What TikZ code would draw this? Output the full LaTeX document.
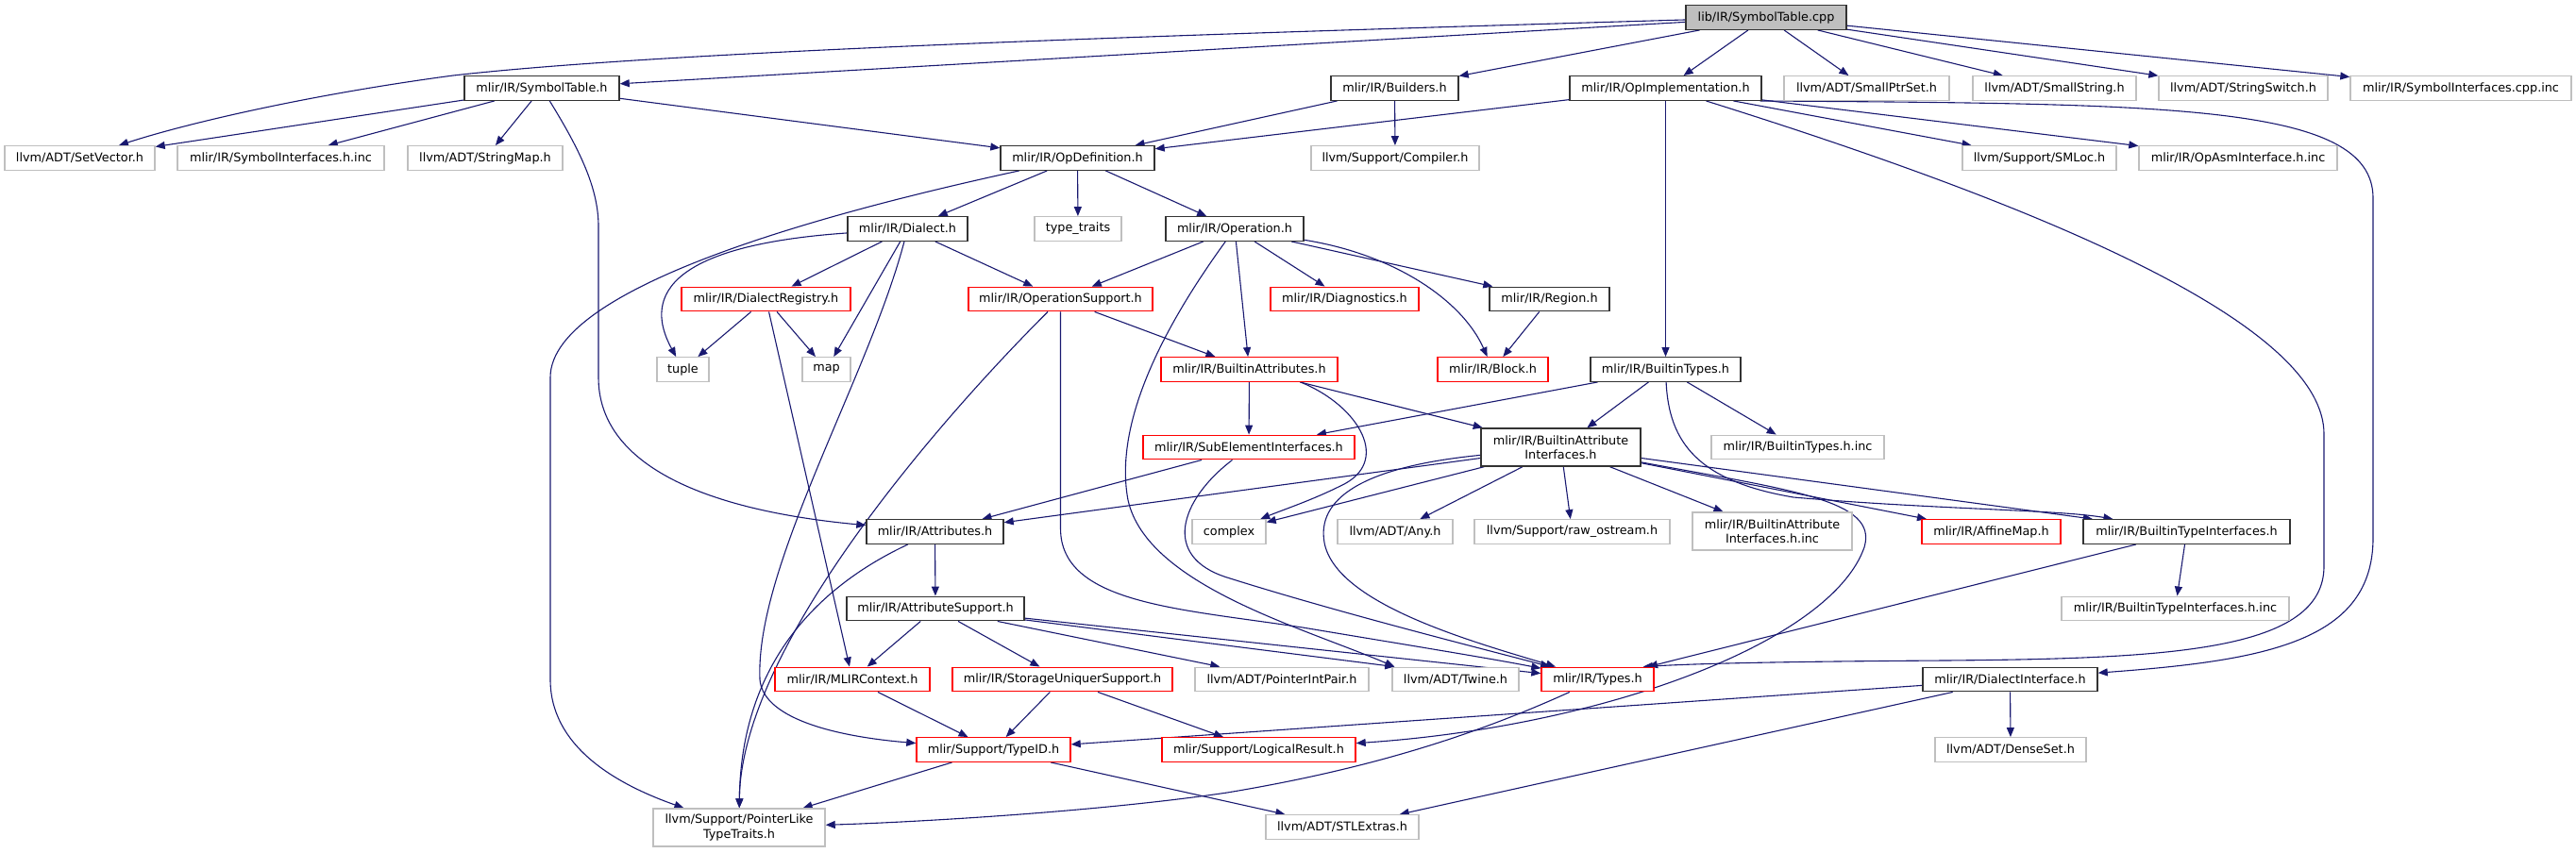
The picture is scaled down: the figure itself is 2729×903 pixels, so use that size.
\documentclass[tikz,border=0pt]{standalone}
\usepackage{fontspec}
\setmainfont{DejaVu Sans}
\usetikzlibrary{arrows.meta}
\definecolor{edgecol}{HTML}{191970}
\definecolor{greyb}{HTML}{BFBFBF}
\definecolor{darkb}{HTML}{333333}
\pgfdeclarelayer{bg}
\pgfsetlayers{bg,main}
\begin{document}
\begin{tikzpicture}[x=1pt,y=-1pt,
 gnode/.style={rectangle, inner sep=0pt, minimum height=25.5pt, line width=1.4pt, fill=white,
   font=\fontsize{12.8pt}{15.5pt}\selectfont, align=center, text=black},
 blk/.style={gnode, draw=darkb},
 gry/.style={gnode, draw=greyb},
 trunc/.style={gnode, draw=red},
 rootn/.style={gnode, draw=darkb, fill=greyb},
 twol/.style={minimum height=40pt},
 dep/.style={draw=edgecol, line width=1.1pt, -{Triangle[length=10pt,width=8pt]}},
 ]
\useasboundingbox (0,0) rectangle (2729,903);

% row 1
\node[rootn, minimum width=170pt] (root) at (1871,18.5) {lib/IR/SymbolTable.cpp};
% row 2
\node[blk, minimum width=164pt] (symtab) at (574,93.5) {mlir/IR/SymbolTable.h};
\node[blk, minimum width=135pt] (builders) at (1477.5,93.5) {mlir/IR/Builders.h};
\node[blk, minimum width=203pt] (opimpl) at (1764.5,93.5) {mlir/IR/OpImplementation.h};
\node[gry, minimum width=175pt] (smallptr) at (1977.5,93.5) {llvm/ADT/SmallPtrSet.h};
\node[gry, minimum width=173pt] (smallstr) at (2176.5,93.5) {llvm/ADT/SmallString.h};
\node[gry, minimum width=179pt] (strswitch) at (2376.5,93.5) {llvm/ADT/StringSwitch.h};
\node[gry, minimum width=234pt] (symifcpp) at (2607,93.5) {mlir/IR/SymbolInterfaces.cpp.inc};
% row 3
\node[gry, minimum width=159pt] (setvector) at (84.5,167.5) {llvm/ADT/SetVector.h};
\node[gry, minimum width=219pt] (symifinc) at (297.5,167.5) {mlir/IR/SymbolInterfaces.h.inc};
\node[gry, minimum width=164pt] (strmap) at (514,167.5) {llvm/ADT/StringMap.h};
\node[blk, minimum width=163pt] (opdef) at (1141.5,167.5) {mlir/IR/OpDefinition.h};
\node[gry, minimum width=178pt] (compiler) at (1478,167.5) {llvm/Support/Compiler.h};
\node[gry, minimum width=163pt] (smloc) at (2160.5,167.5) {llvm/Support/SMLoc.h};
\node[gry, minimum width=210pt] (opasm) at (2371,167.5) {mlir/IR/OpAsmInterface.h.inc};
% row 4
\node[blk, minimum width=127pt] (dialect) at (961.5,242.5) {mlir/IR/Dialect.h};
\node[gry, minimum width=92pt] (typetraits) at (1142,242.5) {type\_traits};
\node[blk, minimum width=146pt] (operation) at (1308,242.5) {mlir/IR/Operation.h};
% row 5
\node[trunc, minimum width=179pt] (dreg) at (811.5,317) {mlir/IR/DialectRegistry.h};
\node[trunc, minimum width=195pt] (opsupport) at (1123.5,317) {mlir/IR/OperationSupport.h};
\node[trunc, minimum width=157pt] (diag) at (1424.5,317) {mlir/IR/Diagnostics.h};
\node[blk, minimum width=127pt] (region) at (1641.5,317) {mlir/IR/Region.h};
% row 6
\node[gry, minimum width=55pt] (tuple) at (723.5,391.5) {tuple};
\node[gry, minimum width=51pt] (map) at (875.5,391.5) {map};
\node[trunc, minimum width=187pt] (battr) at (1323.5,391.5) {mlir/IR/BuiltinAttributes.h};
\node[trunc, minimum width=117pt] (block) at (1581.5,391.5) {mlir/IR/Block.h};
\node[blk, minimum width=159pt] (btypes) at (1764.5,391.5) {mlir/IR/BuiltinTypes.h};
% row 7
\node[trunc, minimum width=224pt] (subel) at (1323,474) {mlir/IR/SubElementInterfaces.h};
\node[blk, twol, minimum width=169pt] (bai) at (1653.5,474) {mlir/IR/BuiltinAttribute\\Interfaces.h};
\node[gry, minimum width=183pt] (btinc) at (1904.5,474) {mlir/IR/BuiltinTypes.h.inc};
% row 8
\node[blk, minimum width=145pt] (attrs) at (990.5,563.5) {mlir/IR/Attributes.h};
\node[gry, minimum width=78pt] (complex) at (1302,563.5) {complex};
\node[gry, minimum width=122pt] (any) at (1478,563.5) {llvm/ADT/Any.h};
\node[gry, minimum width=207pt] (rawos) at (1665.5,563.5) {llvm/Support/raw\_ostream.h};
\node[gry, twol, minimum width=169pt] (baiinc) at (1877.5,563) {mlir/IR/BuiltinAttribute\\Interfaces.h.inc};
\node[trunc, minimum width=147pt] (affine) at (2109.5,563.5) {mlir/IR/AffineMap.h};
\node[blk, minimum width=219pt] (bti) at (2316.5,563.5) {mlir/IR/BuiltinTypeInterfaces.h};
% row 9
\node[blk, minimum width=188pt] (attrsup) at (991,645) {mlir/IR/AttributeSupport.h};
\node[gry, minimum width=241pt] (btiinc) at (2304.5,645) {mlir/IR/BuiltinTypeInterfaces.h.inc};
% row 10
\node[trunc, minimum width=164pt] (mlirctx) at (903,720) {mlir/IR/MLIRContext.h};
\node[trunc, minimum width=233pt] (storage) at (1125.5,720) {mlir/IR/StorageUniquerSupport.h};
\node[gry, minimum width=184pt] (ptrint) at (1358,720) {llvm/ADT/PointerIntPair.h};
\node[gry, minimum width=134pt] (twine) at (1542,720) {llvm/ADT/Twine.h};
\node[trunc, minimum width=119pt] (types) at (1692.5,720) {mlir/IR/Types.h};
\node[blk, minimum width=185pt] (dialif) at (2129.5,720) {mlir/IR/DialectInterface.h};
% row 11
\node[trunc, minimum width=163pt] (typeid) at (1052.5,794.5) {mlir/Support/TypeID.h};
\node[trunc, minimum width=205pt] (logres) at (1333.5,794.5) {mlir/Support/LogicalResult.h};
\node[gry, minimum width=160pt] (denseset) at (2130,794.5) {llvm/ADT/DenseSet.h};
% row 12
\node[gry, twol, minimum width=182pt] (ptrlike) at (783,877) {llvm/Support/PointerLike\\TypeTraits.h};
\node[gry, minimum width=162pt] (stlextras) at (1422,876.5) {llvm/ADT/STLExtras.h};

\begin{pgfonlayer}{bg}
% straight edges
\draw[dep] (root) -- (builders);
\draw[dep] (root) -- (opimpl);
\draw[dep] (root) -- (smallptr);
\draw[dep] (root) -- (smallstr);
\draw[dep] (root) -- (strswitch);
\draw[dep] (root) -- (symifcpp);
\draw[dep] (root) -- (symtab);
\draw[dep] (symtab) -- (setvector);
\draw[dep] (symtab) -- (symifinc);
\draw[dep] (symtab) -- (strmap);
\draw[dep] (symtab) -- (opdef);
\draw[dep] (builders) -- (opdef);
\draw[dep] (builders) -- (compiler);
\draw[dep] (opimpl) -- (opdef);
\draw[dep] (opimpl) -- (btypes);
\draw[dep] (opimpl) -- (smloc);
\draw[dep] (opimpl) -- (opasm);
\draw[dep] (opdef) -- (dialect);
\draw[dep] (opdef) -- (typetraits);
\draw[dep] (opdef) -- (operation);
\draw[dep] (dialect) -- (dreg);
\draw[dep] (dialect) -- (map);
\draw[dep] (dialect) -- (opsupport);
\draw[dep] (operation) -- (opsupport);
\draw[dep] (operation) -- (battr);
\draw[dep] (operation) -- (diag);
\draw[dep] (operation) -- (region);
\draw[dep] (dreg) -- (tuple);
\draw[dep] (dreg) -- (map);
\draw[dep] (dreg) -- (mlirctx);
\draw[dep] (opsupport) -- (battr);
\draw[dep] (region) -- (block);
\draw[dep] (battr) -- (subel);
\draw[dep] (battr) -- (bai);
\draw[dep] (btypes) -- (subel);
\draw[dep] (btypes) -- (bai);
\draw[dep] (btypes) -- (btinc);
\draw[dep] (subel) -- (attrs);
\draw[dep] (bai) -- (attrs);
\draw[dep] (bai) -- (complex);
\draw[dep] (bai) -- (any);
\draw[dep] (bai) -- (rawos);
\draw[dep] (bai) -- (baiinc);
\draw[dep] (bai) -- (affine);
\draw[dep] (bai) -- (bti);
\draw[dep] (attrs) -- (attrsup);
\draw[dep] (attrsup) -- (mlirctx);
\draw[dep] (attrsup) -- (storage);
\draw[dep] (attrsup) -- (ptrint);
\draw[dep] (attrsup) -- ([xshift=3pt]twine.north west);
\draw[dep] (attrsup) -- (types);
\draw[dep] (mlirctx) -- (typeid);
\draw[dep] (storage) -- (typeid);
\draw[dep] (storage) -- (logres);
\draw[dep] (typeid) -- (ptrlike);
\draw[dep] (typeid) -- (stlextras);
\draw[dep] (dialif) -- (typeid);
\draw[dep] (dialif) -- (stlextras);
\draw[dep] (dialif) -- (denseset);
\draw[dep] (bti) -- (types);
\draw[dep] (bti) -- (btiinc);
% curved edges
\draw[dep] (root) .. controls (1200,38) and (700,55) .. (480,80) .. controls (330,100) and (200,130) .. (setvector);
\draw[dep] (symtab) .. controls (615,160) and (634,200) .. (634,240) -- (634,400) .. controls (634,490) and (740,540) .. (attrs);
\draw[dep] (opdef) .. controls (900,220) and (583,300) .. (583,400) -- (583,720) .. controls (583,790) and (650,830) .. (ptrlike);
\draw[dep] (dialect) .. controls (680,262) and (690,330) .. (tuple);
\draw[dep] (dialect) .. controls (920,400) and (800,600) .. (805,720) .. controls (808,760) and (880,780) .. (typeid);
\draw[dep] (opsupport) .. controls (1010,430) and (785,680) .. (ptrlike);
\draw[dep] (attrs) .. controls (870,620) and (785,700) .. (ptrlike);
\draw[dep] ([xshift=-2pt]opimpl.south east) .. controls (2300,110) and (2514,110) .. (2514,210) -- (2514,570) .. controls (2514,680) and (2400,700) .. (dialif);
\draw[dep] (opimpl) .. controls (2200,230) and (2462,350) .. (2462,460) -- (2462,600) .. controls (2462,690) and (2300,698) .. (2060,700) .. controls (1900,701) and (1800,703) .. ([xshift=-12pt]types.north east);
\draw[dep] (operation) .. controls (1480,270) and (1550,320) .. (block);
\draw[dep] (operation) .. controls (1230,350) and (1180,450) .. (1195,530) .. controls (1215,620) and (1380,665) .. ([xshift=3pt]twine.north west);
\draw[dep] (opsupport) -- (1123.5,560) .. controls (1123.5,640) and (1250,645) .. (1380,665) .. controls (1500,685) and (1580,698) .. (types);
\draw[dep] (subel) .. controls (1250,530) and (1230,590) .. (1300,612) .. controls (1420,650) and (1580,690) .. (types);
\draw[dep] (bai) .. controls (1440,495) and (1395,530) .. (1403,575) .. controls (1415,640) and (1560,680) .. (types);
\draw[dep] (bai) .. controls (1900,520) and (1990,530) .. (1975,580) .. controls (1940,680) and (1700,770) .. (logres);
\draw[dep] (btypes) .. controls (1768,470) and (1800,510) .. (1900,527) .. controls (2050,540) and (2180,540) .. (bti);
\draw[dep] ([xshift=-40pt]battr.south east) .. controls (1440,430) and (1475,490) .. (1420,515) .. controls (1390,530) and (1360,540) .. (complex);
\draw[dep] (types) .. controls (1560,780) and (1450,815) .. (1300,840) .. controls (1150,862) and (950,872) .. (ptrlike);
\end{pgfonlayer}
\end{tikzpicture}
\end{document}
